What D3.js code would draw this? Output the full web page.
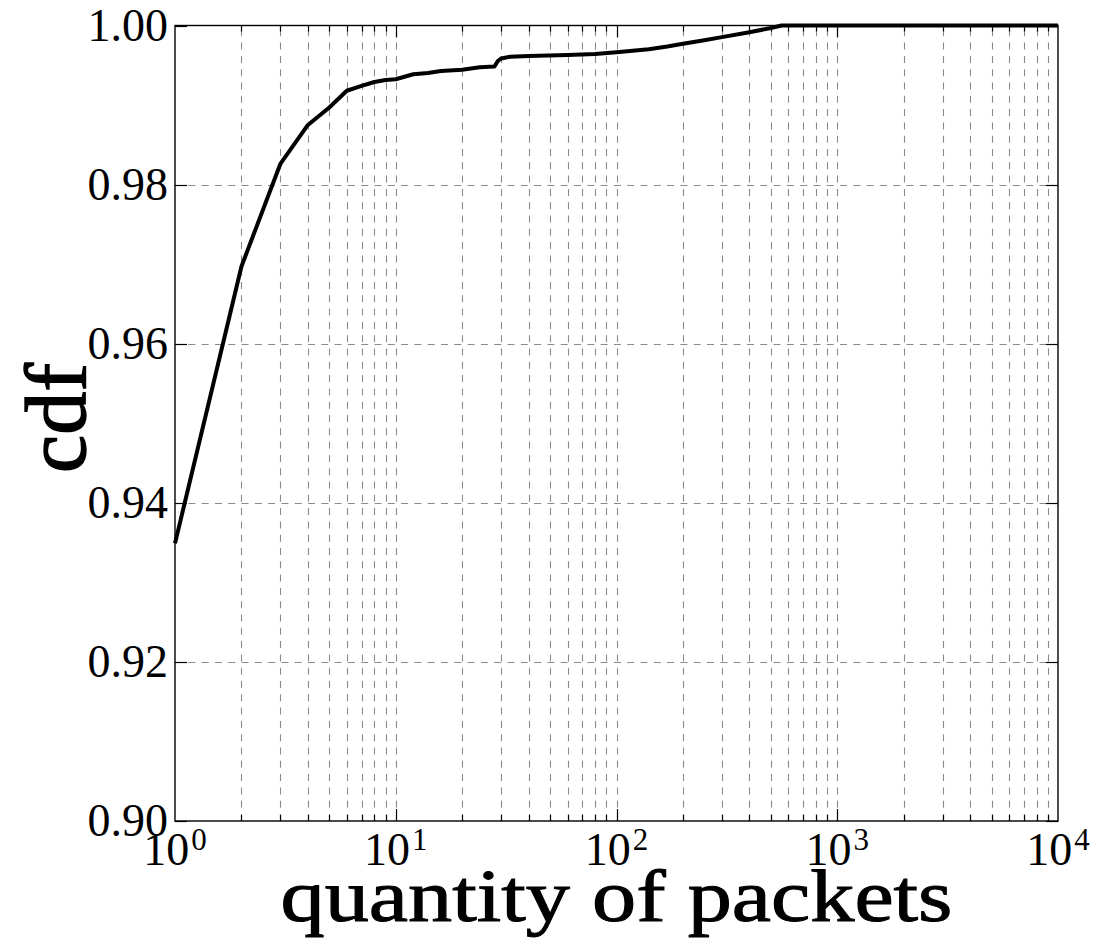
<!DOCTYPE html>
<html>
<head>
<meta charset="utf-8">
<script src="https://cdn.jsdelivr.net/npm/d3@7"></script>
<style>
  html, body { margin: 0; padding: 0; background: #fff; }
  svg { display: block; }
  text { font-family: "Liberation Serif", "DejaVu Serif", serif; fill: #000; }
</style>
</head>
<body>
<svg id="chart" width="1119" height="941"></svg>
<script>
// CDF of packets per flow (log x axis)
const packets = [1, 2, 3, 4, 5, 6, 7, 8, 9, 10, 12, 14, 16, 20, 24, 28, 29, 30, 33, 40, 60, 80, 100, 140, 170, 200, 250, 300, 400, 500, 560, 10000];
const cdf     = [0.9349, 0.9697, 0.9826, 0.9875, 0.9897, 0.9918, 0.9924, 0.9929, 0.99315, 0.99324, 0.99387, 0.99403, 0.99428, 0.99444, 0.99475, 0.99485, 0.99554, 0.99585, 0.99608, 0.99617, 0.99629, 0.99642, 0.99663, 0.99701, 0.99735, 0.99770, 0.99815, 0.99854, 0.99916, 0.99968, 1.0, 1.0];

const yTicks = [0.90, 0.92, 0.94, 0.96, 0.98, 1.00];
const xDecades = [1, 10, 100, 1000, 10000];
const xExponents = ["0", "1", "2", "3", "4"];

const plotL = 175, plotR = 1058, plotT = 25.5, plotB = 821;
const svg = d3.select("#chart");

const x = d3.scaleLog().domain([1, 10000]).range([plotL, plotR]);
const y = d3.scaleLinear().domain([0.90, 1.00]).range([plotB, plotT]);

// all log-spaced positions (majors and minors)
const minorX = [];
for (let d = 1; d < 10000; d *= 10) for (let k = 2; k <= 9; k++) minorX.push(d * k);
const innerMajorX = xDecades.slice(1, -1);

const grid = svg.append("g")
  .attr("stroke", "#8a8a8a").attr("stroke-width", 1.1)
  .attr("stroke-dasharray", "7,6.3").attr("fill", "none");

grid.selectAll("line.v").data(minorX.concat(innerMajorX)).join("line")
  .attr("class", "v")
  .attr("x1", d => Math.round(x(d)) + 0.5).attr("x2", d => Math.round(x(d)) + 0.5)
  .attr("y1", plotB).attr("y2", plotT);

grid.selectAll("line.h").data(yTicks.slice(1, -1)).join("line")
  .attr("class", "h")
  .attr("y1", d => Math.round(y(d)) + 0.5).attr("y2", d => Math.round(y(d)) + 0.5)
  .attr("x1", plotL).attr("x2", plotR);

// inward ticks on all four sides
const ticks = svg.append("g").attr("stroke", "#000").attr("stroke-width", 1.2);
const majorLen = 12, minorLen = 6;

yTicks.forEach(v => {
  const py = Math.round(y(v)) + 0.5;
  ticks.append("line").attr("x1", plotL).attr("x2", plotL + majorLen).attr("y1", py).attr("y2", py);
  ticks.append("line").attr("x1", plotR).attr("x2", plotR - majorLen).attr("y1", py).attr("y2", py);
});
innerMajorX.forEach(v => {
  const px = Math.round(x(v)) + 0.5;
  ticks.append("line").attr("x1", px).attr("x2", px).attr("y1", plotB).attr("y2", plotB - majorLen);
  ticks.append("line").attr("x1", px).attr("x2", px).attr("y1", plotT).attr("y2", plotT + majorLen);
});
minorX.forEach(v => {
  const px = Math.round(x(v)) + 0.5;
  ticks.append("line").attr("x1", px).attr("x2", px).attr("y1", plotB).attr("y2", plotB - minorLen);
  ticks.append("line").attr("x1", px).attr("x2", px).attr("y1", plotT).attr("y2", plotT + minorLen);
});

// CDF curve
const line = d3.line().x((d, i) => x(packets[i])).y(d => y(d));
svg.append("path")
  .datum(cdf)
  .attr("d", line)
  .attr("fill", "none")
  .attr("stroke", "#000")
  .attr("stroke-width", 4)
  .attr("stroke-linejoin", "round");

// frame
svg.append("rect")
  .attr("x", plotL).attr("y", plotT)
  .attr("width", plotR - plotL).attr("height", plotB - plotT)
  .attr("fill", "none").attr("stroke", "#000").attr("stroke-width", 1.4);

// y tick labels
svg.append("g").selectAll("text").data(yTicks).join("text")
  .attr("x", 168)
  .attr("y", d => y(d) + 15)
  .attr("text-anchor", "end")
  .attr("font-size", 46)
  .text(d => d.toFixed(2));

// x tick labels: 10 with superscript exponent
const xl = svg.append("g").selectAll("text").data(xDecades).join("text")
  .attr("x", d => x(d))
  .attr("y", 865)
  .attr("text-anchor", "middle")
  .attr("font-size", 46);
xl.append("tspan").text("10");
xl.append("tspan").attr("font-size", 31).attr("dx", 2).attr("dy", -15).text((d, i) => xExponents[i]);

// axis titles
svg.append("text")
  .attr("x", (plotL + plotR) / 2)
  .attr("y", 921)
  .attr("text-anchor", "middle")
  .attr("font-size", 74)
  .attr("stroke", "#000")
  .attr("stroke-width", 1)
  .attr("textLength", 672)
  .attr("lengthAdjust", "spacingAndGlyphs")
  .text("quantity of packets");

svg.append("text")
  .attr("transform", "translate(85,418) rotate(-90)")
  .attr("text-anchor", "middle")
  .attr("font-size", 86)
  .attr("stroke", "#000")
  .attr("stroke-width", 1.4)
  .attr("textLength", 110)
  .attr("lengthAdjust", "spacingAndGlyphs")
  .text("cdf");
</script>
</body>
</html>
